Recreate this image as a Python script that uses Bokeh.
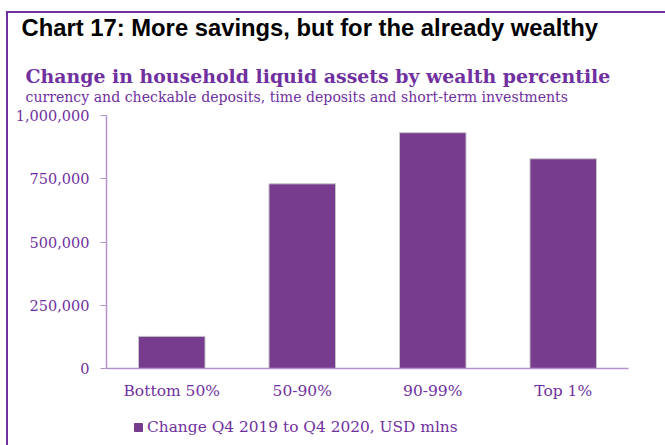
from bokeh.plotting import figure
from bokeh.layouts import column
from bokeh.models import (ColumnDataSource, FactorRange, Range1d, FixedTicker,
                          NumeralTickFormatter, Title, Legend, LegendItem, InlineStyleSheet)
from bokeh.embed import file_html
from bokeh.resources import INLINE

categories = ["Bottom 50%", "50-90%", "90-99%", "Top 1%"]
values = [127000, 730000, 932000, 829000]
y_ticks = [0, 250000, 500000, 750000, 1000000]
series_name = "Change Q4 2019 to Q4 2020, USD mlns"
chart_title = "Chart 17: More savings, but for the already wealthy"
sub_title = "Change in household liquid assets by wealth percentile"
sub_sub_title = "currency and checkable deposits, time deposits and short-term investments"

PURPLE = "#7030A0"
BAR = "#773C8D"
AXIS = "#B493CC"
SERIF = "DejaVu Serif"

source = ColumnDataSource(dict(cat=categories, val=values))

p = figure(frame_width=522, frame_height=253, output_backend="svg", toolbar_location=None,
           x_range=FactorRange(*categories, range_padding=0),
           y_range=Range1d(0, 1000000),
           min_border_left=106, min_border_right=37, min_border_top=0,
           min_border_bottom=37)
p.outline_line_color = None
p.xgrid.grid_line_color = None
p.ygrid.grid_line_color = None
p.background_fill_color = "white"
p.border_fill_color = "white"

r = p.vbar(x="cat", top="val", width=0.51, source=source, fill_color=BAR,
           line_color="#C8C8C8", line_width=1)

p.yaxis.ticker = FixedTicker(ticks=y_ticks)
p.yaxis.formatter = NumeralTickFormatter(format="0,0")
p.yaxis.axis_line_color = AXIS
p.yaxis.axis_line_width = 1.5
p.yaxis.major_tick_line_color = AXIS
p.yaxis.major_tick_out = 6
p.yaxis.major_tick_in = 0
p.yaxis.minor_tick_line_color = None
p.yaxis.major_label_standoff = 11
p.yaxis.major_label_text_font = SERIF
p.yaxis.major_label_text_font_size = "14.5px"
p.yaxis.major_label_text_color = PURPLE

p.xaxis.axis_line_color = AXIS
p.xaxis.axis_line_width = 1.5
p.xaxis.major_tick_line_color = None
p.xaxis.minor_tick_line_color = None
p.xaxis.major_label_standoff = 7
p.xaxis.major_label_text_font = SERIF
p.xaxis.major_label_text_font_size = "15.5px"
p.xaxis.major_label_text_color = PURPLE

# titles stacked from the plot frame outwards
p.add_layout(Title(text=" ", text_font_size="1px", standoff=8, align="left"), "above")
p.add_layout(Title(text=sub_sub_title, align="left", offset=-81, standoff=0,
                   text_font=SERIF, text_font_size="14.1px", text_font_style="normal",
                   text_color=PURPLE), "above")
p.add_layout(Title(text=sub_title, align="left", offset=-81, standoff=0,
                   text_font=SERIF, text_font_size="18.9px", text_font_style="bold",
                   text_color=PURPLE), "above")
p.add_layout(Title(text=" ", text_font_size="1px", standoff=7, align="left"), "above")
p.add_layout(Title(text=chart_title, align="left", offset=-85, standoff=23,
                   text_font="Liberation Sans", text_font_size="23.8px",
                   text_font_style="bold", text_color="black"), "above")

# legend strip under the chart (its bars lie outside its view, only the legend shows)
leg = figure(width=665, height=40, output_backend="svg", toolbar_location=None,
             x_range=FactorRange(*categories), y_range=Range1d(2000000, 3000000),
             x_axis_type=None, y_axis_type=None,
             min_border_left=0, min_border_right=0, min_border_top=0, min_border_bottom=0)
leg.outline_line_color = None
leg.xgrid.grid_line_color = None
leg.ygrid.grid_line_color = None
leg.background_fill_color = "white"
leg.border_fill_color = "white"
leg_r = leg.vbar(x="cat", top="val", width=0.51, source=source,
                 fill_color=BAR, line_color=BAR)
legend = Legend(items=[LegendItem(label=series_name, renderers=[leg_r])],
                location=(27, 9), orientation="horizontal",
                glyph_width=10, glyph_height=10, label_standoff=4,
                padding=0, margin=0, border_line_color=None,
                background_fill_alpha=0,
                label_text_font=SERIF, label_text_font_size="15.4px",
                label_text_color=PURPLE)
leg.add_layout(legend, "center")

layout = column(p, leg, spacing=0)
layout.stylesheets = [InlineStyleSheet(css="""
:host { position: relative; }
:host::after { content: ''; position: absolute; left: 6px; top: 11px; right: 0; bottom: 0;
  border-top: 2px solid #7030A0; border-left: 2px solid #7030A0; pointer-events: none; }
""")]

open("out.html", "w").write(file_html(layout, INLINE))
